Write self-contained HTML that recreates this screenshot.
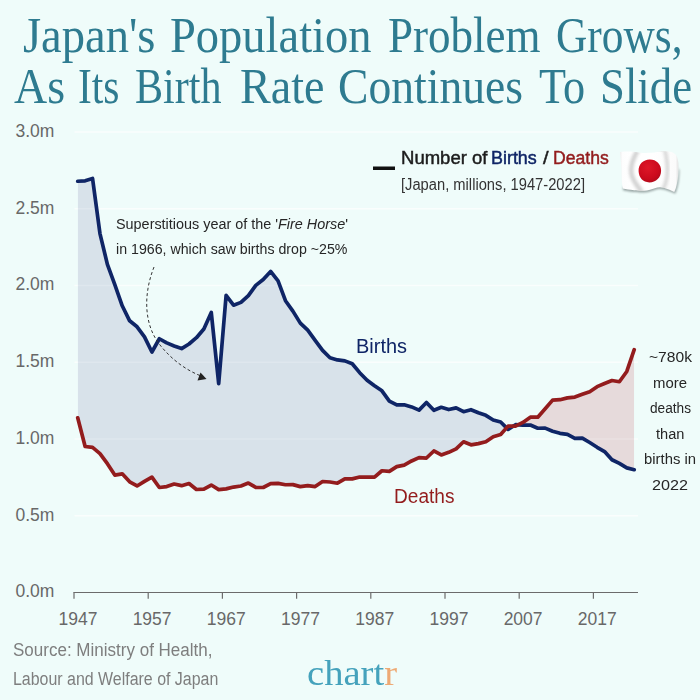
<!DOCTYPE html>
<html><head><meta charset="utf-8"><title>Japan's Population Problem Grows</title>
<style>
html,body{margin:0;padding:0;}
body{width:700px;height:700px;background:#effcfa;position:relative;overflow:hidden;font-family:'Liberation Sans',sans-serif;}
svg{position:absolute;left:0;top:0;}
.t{position:absolute;white-space:nowrap;line-height:1;transform-origin:0 0;display:block;}
</style></head><body>
<svg width="700" height="700" viewBox="0 0 700 700">
<defs>
<clipPath id="ub"><polygon points="77.71,181.27 85.13,180.81 92.55,178.51 99.97,233.62 107.39,264.32 114.81,284.73 122.23,305.76 129.65,320.81 137.07,326.79 144.49,336.92 151.91,351.97 159.33,338.76 166.75,342.91 174.17,345.98 181.59,348.59 189.01,343.98 196.43,337.69 203.85,328.94 211.27,312.52 218.69,383.59 226.11,295.32 233.53,305.15 240.95,302.39 248.37,295.63 255.79,285.35 263.21,279.51 270.63,271.38 278.05,280.90 285.47,300.70 292.89,311.13 300.31,323.11 307.73,330.17 315.15,340.30 322.57,350.43 329.99,357.80 337.41,359.95 344.83,360.87 352.25,363.78 359.67,372.69 367.09,380.21 374.51,385.74 381.93,390.80 389.35,401.09 396.77,404.92 404.19,404.77 411.61,406.92 419.03,410.14 426.45,402.47 433.87,410.30 441.29,407.23 448.71,409.53 456.13,407.84 463.55,411.68 470.97,409.68 478.39,412.75 485.81,415.36 493.23,419.97 500.65,421.96 508.07,429.33 515.49,424.72 522.91,425.18 530.33,425.03 537.75,428.25 545.17,428.10 552.59,431.17 560.01,433.32 567.43,434.39 574.85,438.39 582.27,438.08 589.69,442.53 597.11,447.29 604.53,451.59 611.95,459.72 619.37,463.41 626.79,467.86 634.21,469.70 634.21,700.00 77.71,700.00"/></clipPath>
<clipPath id="ad"><polygon points="77.71,417.82 85.13,446.52 92.55,447.44 99.97,453.58 107.39,463.71 114.81,475.07 122.23,473.84 129.65,481.83 137.07,485.97 144.49,481.37 151.91,477.07 159.33,487.51 166.75,486.59 174.17,483.98 181.59,485.66 189.01,483.51 196.43,489.50 203.85,489.19 211.27,485.05 218.69,489.65 226.11,488.89 233.53,487.05 240.95,485.97 248.37,483.05 255.79,487.35 263.21,487.51 270.63,483.67 278.05,483.36 285.47,484.74 292.89,484.59 300.31,486.59 307.73,485.66 315.15,486.59 322.57,481.52 329.99,481.98 337.41,483.21 344.83,478.91 352.25,478.91 359.67,477.07 367.09,477.22 374.51,477.22 381.93,470.77 389.35,471.39 396.77,466.63 404.19,465.10 411.61,460.95 419.03,457.57 426.45,458.03 433.87,450.97 441.29,454.96 448.71,452.35 456.13,448.82 463.55,441.76 470.97,444.83 478.39,443.61 485.81,441.76 493.23,436.70 500.65,434.55 508.07,426.11 515.49,426.11 522.91,422.42 530.33,417.20 537.75,417.20 545.17,408.76 552.59,400.16 560.01,399.70 567.43,397.86 574.85,397.09 582.27,394.33 589.69,391.72 597.11,386.66 604.53,383.43 611.95,380.52 619.37,381.74 626.79,371.46 634.21,349.66 634.21,0.00 77.71,0.00"/></clipPath>
<clipPath id="ud"><polygon points="77.71,417.82 85.13,446.52 92.55,447.44 99.97,453.58 107.39,463.71 114.81,475.07 122.23,473.84 129.65,481.83 137.07,485.97 144.49,481.37 151.91,477.07 159.33,487.51 166.75,486.59 174.17,483.98 181.59,485.66 189.01,483.51 196.43,489.50 203.85,489.19 211.27,485.05 218.69,489.65 226.11,488.89 233.53,487.05 240.95,485.97 248.37,483.05 255.79,487.35 263.21,487.51 270.63,483.67 278.05,483.36 285.47,484.74 292.89,484.59 300.31,486.59 307.73,485.66 315.15,486.59 322.57,481.52 329.99,481.98 337.41,483.21 344.83,478.91 352.25,478.91 359.67,477.07 367.09,477.22 374.51,477.22 381.93,470.77 389.35,471.39 396.77,466.63 404.19,465.10 411.61,460.95 419.03,457.57 426.45,458.03 433.87,450.97 441.29,454.96 448.71,452.35 456.13,448.82 463.55,441.76 470.97,444.83 478.39,443.61 485.81,441.76 493.23,436.70 500.65,434.55 508.07,426.11 515.49,426.11 522.91,422.42 530.33,417.20 537.75,417.20 545.17,408.76 552.59,400.16 560.01,399.70 567.43,397.86 574.85,397.09 582.27,394.33 589.69,391.72 597.11,386.66 604.53,383.43 611.95,380.52 619.37,381.74 626.79,371.46 634.21,349.66 634.21,700.00 77.71,700.00"/></clipPath>
<clipPath id="ab"><polygon points="77.71,181.27 85.13,180.81 92.55,178.51 99.97,233.62 107.39,264.32 114.81,284.73 122.23,305.76 129.65,320.81 137.07,326.79 144.49,336.92 151.91,351.97 159.33,338.76 166.75,342.91 174.17,345.98 181.59,348.59 189.01,343.98 196.43,337.69 203.85,328.94 211.27,312.52 218.69,383.59 226.11,295.32 233.53,305.15 240.95,302.39 248.37,295.63 255.79,285.35 263.21,279.51 270.63,271.38 278.05,280.90 285.47,300.70 292.89,311.13 300.31,323.11 307.73,330.17 315.15,340.30 322.57,350.43 329.99,357.80 337.41,359.95 344.83,360.87 352.25,363.78 359.67,372.69 367.09,380.21 374.51,385.74 381.93,390.80 389.35,401.09 396.77,404.92 404.19,404.77 411.61,406.92 419.03,410.14 426.45,402.47 433.87,410.30 441.29,407.23 448.71,409.53 456.13,407.84 463.55,411.68 470.97,409.68 478.39,412.75 485.81,415.36 493.23,419.97 500.65,421.96 508.07,429.33 515.49,424.72 522.91,425.18 530.33,425.03 537.75,428.25 545.17,428.10 552.59,431.17 560.01,433.32 567.43,434.39 574.85,438.39 582.27,438.08 589.69,442.53 597.11,447.29 604.53,451.59 611.95,459.72 619.37,463.41 626.79,467.86 634.21,469.70 634.21,0.00 77.71,0.00"/></clipPath>
</defs>
<g stroke="#ffffff" stroke-opacity="0.6" stroke-width="1.3"><line x1="74.5" x2="638" y1="515.75" y2="515.75"/><line x1="74.5" x2="638" y1="439.00" y2="439.00"/><line x1="74.5" x2="638" y1="362.25" y2="362.25"/><line x1="74.5" x2="638" y1="285.50" y2="285.50"/><line x1="74.5" x2="638" y1="208.75" y2="208.75"/><line x1="74.5" x2="638" y1="132.00" y2="132.00"/></g>
<g clip-path="url(#ub)"><g clip-path="url(#ad)"><rect x="0" y="0" width="700" height="700" fill="#d8e2ea"/></g></g>
<g clip-path="url(#ud)"><g clip-path="url(#ab)"><rect x="0" y="0" width="700" height="700" fill="#e6dadb"/></g></g>
<g stroke="#ffffff" stroke-opacity="0.2" stroke-width="1.3"><line x1="74.5" x2="638" y1="515.75" y2="515.75"/><line x1="74.5" x2="638" y1="439.00" y2="439.00"/><line x1="74.5" x2="638" y1="362.25" y2="362.25"/><line x1="74.5" x2="638" y1="285.50" y2="285.50"/><line x1="74.5" x2="638" y1="208.75" y2="208.75"/><line x1="74.5" x2="638" y1="132.00" y2="132.00"/></g>
<g stroke="#6b6b6b" stroke-width="1.2"><line x1="73.4" x2="638" y1="592.5" y2="592.5"/><line x1="74.00" x2="74.00" y1="592.5" y2="598.8"/><line x1="148.20" x2="148.20" y1="592.5" y2="598.8"/><line x1="222.40" x2="222.40" y1="592.5" y2="598.8"/><line x1="296.60" x2="296.60" y1="592.5" y2="598.8"/><line x1="370.80" x2="370.80" y1="592.5" y2="598.8"/><line x1="445.00" x2="445.00" y1="592.5" y2="598.8"/><line x1="519.20" x2="519.20" y1="592.5" y2="598.8"/><line x1="593.40" x2="593.40" y1="592.5" y2="598.8"/></g>
<path d="M77.71 181.27 L85.13 180.81 L92.55 178.51 L99.97 233.62 L107.39 264.32 L114.81 284.73 L122.23 305.76 L129.65 320.81 L137.07 326.79 L144.49 336.92 L151.91 351.97 L159.33 338.76 L166.75 342.91 L174.17 345.98 L181.59 348.59 L189.01 343.98 L196.43 337.69 L203.85 328.94 L211.27 312.52 L218.69 383.59 L226.11 295.32 L233.53 305.15 L240.95 302.39 L248.37 295.63 L255.79 285.35 L263.21 279.51 L270.63 271.38 L278.05 280.90 L285.47 300.70 L292.89 311.13 L300.31 323.11 L307.73 330.17 L315.15 340.30 L322.57 350.43 L329.99 357.80 L337.41 359.95 L344.83 360.87 L352.25 363.78 L359.67 372.69 L367.09 380.21 L374.51 385.74 L381.93 390.80 L389.35 401.09 L396.77 404.92 L404.19 404.77 L411.61 406.92 L419.03 410.14 L426.45 402.47 L433.87 410.30 L441.29 407.23 L448.71 409.53 L456.13 407.84 L463.55 411.68 L470.97 409.68 L478.39 412.75 L485.81 415.36 L493.23 419.97 L500.65 421.96 L508.07 429.33 L515.49 424.72 L522.91 425.18 L530.33 425.03 L537.75 428.25 L545.17 428.10 L552.59 431.17 L560.01 433.32 L567.43 434.39 L574.85 438.39 L582.27 438.08 L589.69 442.53 L597.11 447.29 L604.53 451.59 L611.95 459.72 L619.37 463.41 L626.79 467.86 L634.21 469.70" fill="none" stroke="#0f2566" stroke-width="3.7" stroke-linejoin="round" stroke-linecap="round"/>
<path d="M77.71 417.82 L85.13 446.52 L92.55 447.44 L99.97 453.58 L107.39 463.71 L114.81 475.07 L122.23 473.84 L129.65 481.83 L137.07 485.97 L144.49 481.37 L151.91 477.07 L159.33 487.51 L166.75 486.59 L174.17 483.98 L181.59 485.66 L189.01 483.51 L196.43 489.50 L203.85 489.19 L211.27 485.05 L218.69 489.65 L226.11 488.89 L233.53 487.05 L240.95 485.97 L248.37 483.05 L255.79 487.35 L263.21 487.51 L270.63 483.67 L278.05 483.36 L285.47 484.74 L292.89 484.59 L300.31 486.59 L307.73 485.66 L315.15 486.59 L322.57 481.52 L329.99 481.98 L337.41 483.21 L344.83 478.91 L352.25 478.91 L359.67 477.07 L367.09 477.22 L374.51 477.22 L381.93 470.77 L389.35 471.39 L396.77 466.63 L404.19 465.10 L411.61 460.95 L419.03 457.57 L426.45 458.03 L433.87 450.97 L441.29 454.96 L448.71 452.35 L456.13 448.82 L463.55 441.76 L470.97 444.83 L478.39 443.61 L485.81 441.76 L493.23 436.70 L500.65 434.55 L508.07 426.11 L515.49 426.11 L522.91 422.42 L530.33 417.20 L537.75 417.20 L545.17 408.76 L552.59 400.16 L560.01 399.70 L567.43 397.86 L574.85 397.09 L582.27 394.33 L589.69 391.72 L597.11 386.66 L604.53 383.43 L611.95 380.52 L619.37 381.74 L626.79 371.46 L634.21 349.66" fill="none" stroke="#931c1d" stroke-width="3.7" stroke-linejoin="round" stroke-linecap="round"/>
<path d="M154 267 C143 295 144 325 160 345 C172 360 186 370 201 376" fill="none" stroke="#333" stroke-width="1" stroke-dasharray="3 2.4"/>
<polygon points="206.5,379 197.5,380.5 200.5,372.5" fill="#222"/>
<rect x="373" y="166.5" width="22" height="3.5" fill="#111"/>
<defs>
<linearGradient id="fg" x1="0" y1="0" x2="1" y2="0">
<stop offset="0" stop-color="#e4e4e4"/><stop offset="0.07" stop-color="#fdfdfd"/><stop offset="0.2" stop-color="#ffffff"/>
<stop offset="0.55" stop-color="#ffffff"/><stop offset="0.9" stop-color="#fbfbfb"/><stop offset="1" stop-color="#c4c4c4"/>
</linearGradient>
<radialGradient id="fr" cx="0.42" cy="0.35" r="0.75">
<stop offset="0" stop-color="#de1728"/><stop offset="0.65" stop-color="#cb0a1d"/><stop offset="1" stop-color="#a80a19"/>
</radialGradient>
<filter id="fb" x="-30%" y="-30%" width="160%" height="160%"><feGaussianBlur stdDeviation="1.1"/></filter>
<filter id="fb2" x="-50%" y="-20%" width="200%" height="140%"><feGaussianBlur stdDeviation="1.5"/></filter>
<clipPath id="fc"><path d="M620 152.1 C624 151.6 629 151.5 632.9 151.7 C637 152 640 152.9 642.9 152.9 C647 152.9 650 152.7 654.3 152.4 C658 152 661 151.3 664.3 151.3 C667 151.3 669.5 151.5 671.4 152.1 C673.5 152.8 675.3 154 676.4 155.7 C677.8 158 678.5 162 678.5 166 C678.5 172 678 178 677 183 C676.3 186.5 675.4 189.5 674.3 192.1 C672 190.8 670 190 668 189.3 C665 188.2 662.5 187.3 660 187.3 C656 187.3 653.5 188.8 650 189.8 C648 190.4 646 190.8 644 190.8 C640 190.9 637 190.6 634 190.3 C630 189.9 626 189.3 622.9 188.6 C622.2 185 621.9 183 621.8 180 C621.6 176 621.5 173 621.5 170 C621.3 164 620.6 158 620 152.1 Z"/></clipPath>
</defs>
<g id="flag">
<path d="M622.9 186.4 C626 187 630 187.6 634 188 C637 188.3 640 188.6 644 188.5 C646 188.5 648 188 650 187.4 C653.5 186.4 656 185 660 185 C662.5 185 665 186 668 187 C670 187.7 672 188.6 674.3 189.8 C676.5 184 678 176 678.4 168 L679.4 170 C679.4 180 677.9 188 675.3 193.7 C673 192.6 671 191.7 668.5 190.9 C665.5 189.8 662.5 189 660 189 C656 189 653.5 190.5 650 191.5 C648 192.1 646 192.6 644 192.6 C640 192.7 637 192.4 634 192.1 C630 191.7 626 191 622.9 190.3 Z" fill="#5f6c6c" opacity="0.6" filter="url(#fb)"/>
<g clip-path="url(#fc)">
<rect x="618" y="148" width="64" height="48" fill="url(#fg)"/>
<path d="M638 150 C633 158 630 166 631.5 174 C632.5 180 637 186 642 192" fill="none" stroke="#bdbdbd" stroke-width="4.5" opacity="0.68" filter="url(#fb2)"/>
<path d="M664.5 149 C667 158 668 168 667 176 C666.5 181 665 186 662.5 190" fill="none" stroke="#c6c6c6" stroke-width="3.5" opacity="0.7" filter="url(#fb2)"/>
<path d="M645 150 C650 152 658 152 664 150" fill="none" stroke="#d2d2d2" stroke-width="3" opacity="0.6" filter="url(#fb2)"/>
</g>
<path d="M638.6 171.3 C638.3 164.3 643 159.6 649.8 159.5 C656.6 159.5 661.2 164.4 661.1 170.7 C661 177.4 656.2 182.4 649.3 182.4 C643 182.3 638.9 177.8 638.6 171.3 Z" fill="url(#fr)"/>
</g>

</svg>
<span class="t" id="t0" style="left:23.00px;top:10.00px;font-family:'Liberation Serif',serif;font-size:50px;color:#2e7b90;transform:scaleX(0.9310);">Japan's</span>
<span class="t" id="t1" style="left:170.00px;top:10.00px;font-family:'Liberation Serif',serif;font-size:50px;color:#2e7b90;transform:scaleX(0.9299);">Population</span>
<span class="t" id="t2" style="left:388.00px;top:10.00px;font-family:'Liberation Serif',serif;font-size:50px;color:#2e7b90;transform:scaleX(0.9000);">Problem</span>
<span class="t" id="t3" style="left:555.50px;top:10.00px;font-family:'Liberation Serif',serif;font-size:50px;color:#2e7b90;transform:scaleX(0.8675);">Grows,</span>
<span class="t" id="t4" style="left:13.50px;top:61.30px;font-family:'Liberation Serif',serif;font-size:50px;color:#2e7b90;transform:scaleX(0.9176);">As</span>
<span class="t" id="t5" style="left:78.00px;top:61.30px;font-family:'Liberation Serif',serif;font-size:50px;color:#2e7b90;transform:scaleX(0.8300);">Its</span>
<span class="t" id="t6" style="left:135.00px;top:61.30px;font-family:'Liberation Serif',serif;font-size:50px;color:#2e7b90;transform:scaleX(0.8415);">Birth</span>
<span class="t" id="t7" style="left:240.00px;top:61.30px;font-family:'Liberation Serif',serif;font-size:50px;color:#2e7b90;transform:scaleX(0.9221);">Rate</span>
<span class="t" id="t8" style="left:338.00px;top:61.30px;font-family:'Liberation Serif',serif;font-size:50px;color:#2e7b90;transform:scaleX(0.9122);">Continues</span>
<span class="t" id="t9" style="left:538.50px;top:61.30px;font-family:'Liberation Serif',serif;font-size:50px;color:#2e7b90;transform:scaleX(0.8836);">To</span>
<span class="t" id="t10" style="left:599.50px;top:61.30px;font-family:'Liberation Serif',serif;font-size:50px;color:#2e7b90;transform:scaleX(0.8950);">Slide</span>
<span class="t" id="t11" style="left:15.49px;top:583.40px;font-family:'Liberation Sans',sans-serif;font-size:17.5px;color:#686868;">0.0m</span>
<span class="t" id="t12" style="left:15.49px;top:506.65px;font-family:'Liberation Sans',sans-serif;font-size:17.5px;color:#686868;">0.5m</span>
<span class="t" id="t13" style="left:15.49px;top:429.90px;font-family:'Liberation Sans',sans-serif;font-size:17.5px;color:#686868;">1.0m</span>
<span class="t" id="t14" style="left:15.49px;top:353.15px;font-family:'Liberation Sans',sans-serif;font-size:17.5px;color:#686868;">1.5m</span>
<span class="t" id="t15" style="left:15.49px;top:276.40px;font-family:'Liberation Sans',sans-serif;font-size:17.5px;color:#686868;">2.0m</span>
<span class="t" id="t16" style="left:15.49px;top:199.65px;font-family:'Liberation Sans',sans-serif;font-size:17.5px;color:#686868;">2.5m</span>
<span class="t" id="t17" style="left:15.49px;top:122.90px;font-family:'Liberation Sans',sans-serif;font-size:17.5px;color:#686868;">3.0m</span>
<span class="t" id="t18" style="left:58.44px;top:611.30px;font-family:'Liberation Sans',sans-serif;font-size:17.5px;color:#686868;">1947</span>
<span class="t" id="t19" style="left:132.64px;top:611.30px;font-family:'Liberation Sans',sans-serif;font-size:17.5px;color:#686868;">1957</span>
<span class="t" id="t20" style="left:206.84px;top:611.30px;font-family:'Liberation Sans',sans-serif;font-size:17.5px;color:#686868;">1967</span>
<span class="t" id="t21" style="left:281.04px;top:611.30px;font-family:'Liberation Sans',sans-serif;font-size:17.5px;color:#686868;">1977</span>
<span class="t" id="t22" style="left:355.24px;top:611.30px;font-family:'Liberation Sans',sans-serif;font-size:17.5px;color:#686868;">1987</span>
<span class="t" id="t23" style="left:429.44px;top:611.30px;font-family:'Liberation Sans',sans-serif;font-size:17.5px;color:#686868;">1997</span>
<span class="t" id="t24" style="left:503.64px;top:611.30px;font-family:'Liberation Sans',sans-serif;font-size:17.5px;color:#686868;">2007</span>
<span class="t" id="t25" style="left:577.84px;top:611.30px;font-family:'Liberation Sans',sans-serif;font-size:17.5px;color:#686868;">2017</span>
<span class="t" id="t26" style="left:115.50px;top:215.60px;font-family:'Liberation Sans',sans-serif;font-size:15.5px;color:#262626;transform:scaleX(0.9289);">Superstitious year of the '<i>Fire Horse</i>'</span>
<span class="t" id="t27" style="left:116.00px;top:240.50px;font-family:'Liberation Sans',sans-serif;font-size:15.5px;color:#262626;transform:scaleX(0.9154);">in 1966, which saw births drop ~25%</span>
<span class="t" id="t28" style="left:400.80px;top:150.10px;font-family:'Liberation Sans',sans-serif;font-size:17.5px;color:#1c1c1c;font-weight:normal;-webkit-text-stroke:0.45px;transform:scaleX(1.0587);">Number of</span>
<span class="t" id="t29" style="left:491.20px;top:150.10px;font-family:'Liberation Sans',sans-serif;font-size:17.5px;color:#0f2566;font-weight:normal;-webkit-text-stroke:0.45px;transform:scaleX(1.0238);">Births</span>
<span class="t" id="t30" style="left:543.30px;top:150.10px;font-family:'Liberation Sans',sans-serif;font-size:17.5px;color:#1c1c1c;font-weight:normal;-webkit-text-stroke:0.45px;transform:scaleX(1.1487);">/</span>
<span class="t" id="t31" style="left:553.20px;top:150.10px;font-family:'Liberation Sans',sans-serif;font-size:17.5px;color:#931c1d;font-weight:normal;-webkit-text-stroke:0.45px;transform:scaleX(1.0063);">Deaths</span>
<span class="t" id="t32" style="left:400.50px;top:177.30px;font-family:'Liberation Sans',sans-serif;font-size:16px;color:#333;transform:scaleX(0.9194);">[Japan, millions, 1947-2022]</span>
<span class="t" id="t33" style="left:356.00px;top:336.90px;font-family:'Liberation Sans',sans-serif;font-size:19.5px;color:#0f2566;transform:scaleX(1.0229);">Births</span>
<span class="t" id="t34" style="left:393.50px;top:487.00px;font-family:'Liberation Sans',sans-serif;font-size:19.5px;color:#931c1d;transform:scaleX(0.9790);">Deaths</span>
<span class="t" id="t35" style="left:648.50px;top:348.80px;font-family:'Liberation Sans',sans-serif;font-size:15.5px;color:#262626;transform:scaleX(1.0077);">~780k</span>
<span class="t" id="t36" style="left:652.50px;top:374.50px;font-family:'Liberation Sans',sans-serif;font-size:15.5px;color:#262626;transform:scaleX(0.9624);">more</span>
<span class="t" id="t37" style="left:649.50px;top:400.10px;font-family:'Liberation Sans',sans-serif;font-size:15.5px;color:#262626;transform:scaleX(0.8808);">deaths</span>
<span class="t" id="t38" style="left:656.30px;top:425.80px;font-family:'Liberation Sans',sans-serif;font-size:15.5px;color:#262626;transform:scaleX(0.9413);">than</span>
<span class="t" id="t39" style="left:644.00px;top:450.80px;font-family:'Liberation Sans',sans-serif;font-size:15.5px;color:#262626;transform:scaleX(0.9580);">births in</span>
<span class="t" id="t40" style="left:652.00px;top:477.00px;font-family:'Liberation Sans',sans-serif;font-size:15.5px;color:#262626;transform:scaleX(1.0440);">2022</span>
<span class="t" id="t41" style="left:12.50px;top:641.00px;font-family:'Liberation Sans',sans-serif;font-size:18px;color:#7e7e7e;transform:scaleX(0.9451);">Source: Ministry of Health,</span>
<span class="t" id="t42" style="left:12.50px;top:669.60px;font-family:'Liberation Sans',sans-serif;font-size:18px;color:#7e7e7e;transform:scaleX(0.8855);">Labour and Welfare of Japan</span>
<span class="t" id="t43" style="left:306.50px;top:654.70px;font-family:'Liberation Serif',serif;font-size:36px;color:#45a2bc;transform:scaleX(1.0720);">chart<span style="color:#eea974">r</span></span>

</body></html>
